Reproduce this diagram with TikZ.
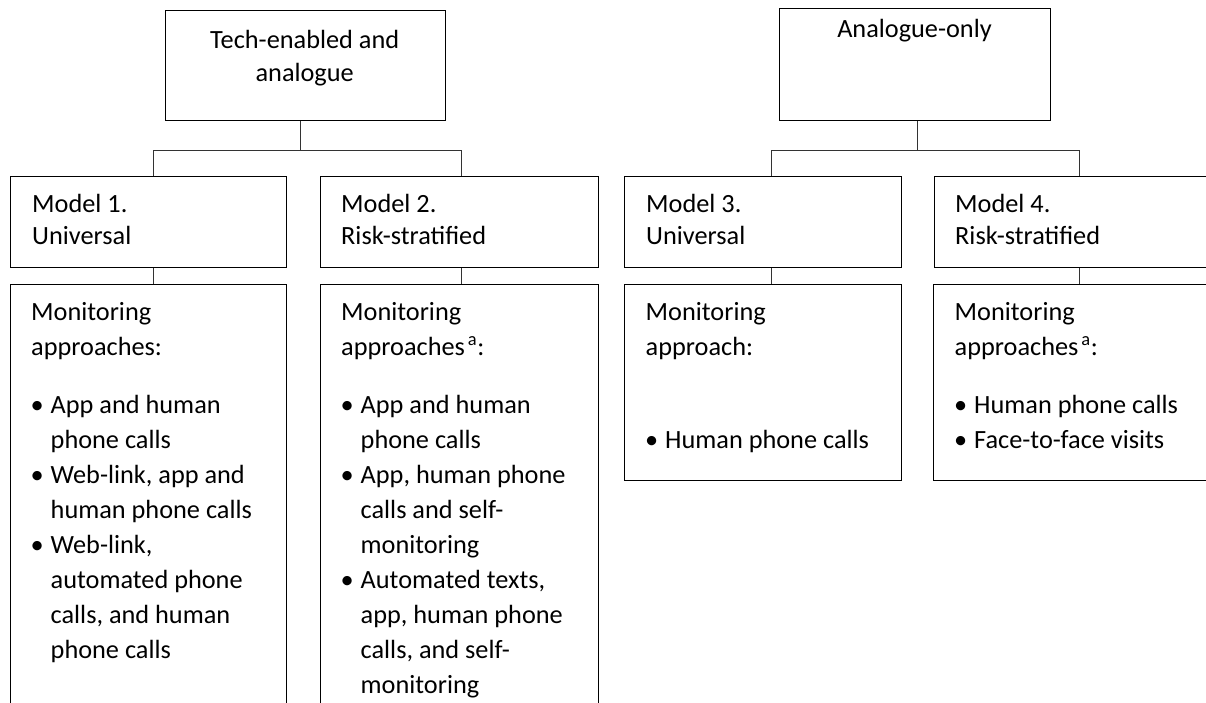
\documentclass[tikz,border=0pt]{standalone}
\usepackage{fontspec}
\setmainfont{Carlito}
\newcommand\bitem{\makebox[19.5pt][l]{\hspace*{-0.5pt}\textbullet}}
\newcommand\bcont{\hspace*{19.5pt}}
\begin{document}
\begin{tikzpicture}[x=1pt,y=-1pt,
  box/.style={draw=black, line width=1.3pt, inner sep=0pt, anchor=north west},
  conn/.style={draw=black!80, line width=1pt},
  txt/.style={inner sep=0pt, anchor=base west, font=\fontsize{26.3pt}{32pt}\selectfont},
  ctxt/.style={inner sep=0pt, anchor=base, font=\fontsize{26.3pt}{32pt}\selectfont}]
\useasboundingbox (0,0) rectangle (1206,702);
\clip (0,0) rectangle (1206,702);
\fill[white] (0,0) rectangle (1206,702);
% top boxes
\node[box, minimum width=280.5pt, minimum height=110pt] (t1) at (164.5,10) {};
\node[box, minimum width=271pt, minimum height=111.5pt] (t2) at (779,8) {};
% model boxes
\node[box, minimum width=276pt, minimum height=91.5pt] (m1) at (10,175.5) {};
\node[box, minimum width=278.5pt, minimum height=91.5pt] (m2) at (319.5,175.5) {};
\node[box, minimum width=277pt, minimum height=91.5pt] (m3) at (624,175.5) {};
\node[box, minimum width=300pt, minimum height=91.5pt] (m4) at (933.5,175.5) {};
% monitoring boxes
\node[box, minimum width=276pt, minimum height=450pt] (b1) at (10,283.5) {};
\node[box, minimum width=278.5pt, minimum height=450pt] (b2) at (319.5,283.5) {};
\node[box, minimum width=277pt, minimum height=196pt] (b3) at (624,283.5) {};
\node[box, minimum width=300pt, minimum height=196pt] (b4) at (933,283.5) {};
% connector coordinates
\coordinate (j1) at (300,150);
\coordinate (j2) at (917.7,150);
\coordinate (c1) at (153.5,150);
\coordinate (c2) at (461.5,150);
\coordinate (c3) at (771,150);
\coordinate (c4) at (1079,150);
\draw[conn] (t1.south -| j1) -- (j1);
\draw[conn] (c1) -- (c2);
\draw[conn] (c1) -- (c1 |- m1.north);
\draw[conn] (c2) -- (c2 |- m2.north);
\draw[conn] (t2.south -| j2) -- (j2);
\draw[conn] (c3) -- (c4);
\draw[conn] (c3) -- (c3 |- m3.north);
\draw[conn] (c4) -- (c4 |- m4.north);
\draw[conn] (m1.south -| c1) -- (b1.north -| c1);
\draw[conn] (m2.south -| c2) -- (b2.north -| c2);
\draw[conn] (m3.south -| c3) -- (b3.north -| c3);
\draw[conn] (m4.south -| c4) -- (b4.north -| c4);
% top texts
\node[ctxt] (t1a) at (304.7,48) {Tech-enabled and};
\node[ctxt] (t1b) at (304.7,81) {analogue};
\node[ctxt] (t2a) at (914.5,37) {Analogue-only};
% model texts
\node[txt] (m1a) at (32,212.5) {Model 1.};
\node[txt] (m1b) at (32,244.5) {Universal};
\node[txt] (m2a) at (341,212.5) {Model 2.};
\node[txt] (m2b) at (341,244.5) {Risk-stratified};
\node[txt] (m3a) at (646,212.5) {Model 3.};
\node[txt] (m3b) at (646,244.5) {Universal};
\node[txt] (m4a) at (955,212.5) {Model 4.};
\node[txt] (m4b) at (955,244.5) {Risk-stratified};
% monitoring headers
\node[txt] (b1h1) at (31,320) {Monitoring};
\node[txt] (b1h2) at (31,355) {approaches:};
\node[txt] (b2h1) at (341,320) {Monitoring};
\node[txt] (b2h2) at (341,355) {approaches\kern3pt\textsuperscript{a}:};
\node[txt] (b3h1) at (645.5,320) {Monitoring};
\node[txt] (b3h2) at (645.5,355) {approach:};
\node[txt] (b4h1) at (954.5,320) {Monitoring};
\node[txt] (b4h2) at (954.5,355) {approaches\kern3pt\textsuperscript{a}:};
% bullet lists
\foreach \t [count=\i from 0] in {{\bitem App and human},{\bcont phone calls},{\bitem Web-link, app and},{\bcont human phone calls},{\bitem Web-link,},{\bcont automated phone},{\bcont calls, and human},{\bcont phone calls}}
  \node[txt] (b1-\i) at (31,{413+35*\i}) {\t};
\foreach \t [count=\i from 0] in {{\bitem App and human},{\bcont phone calls},{\bitem App, human phone},{\bcont calls and self-},{\bcont monitoring},{\bitem Automated texts,},{\bcont app, human phone},{\bcont calls, and self-},{\bcont monitoring}}
  \node[txt] (b2-\i) at (341,{413+35*\i}) {\t};
\node[txt] (b3-0) at (645.5,448) {\bitem Human phone calls};
\node[txt] (b4-0) at (954.5,413) {\bitem Human phone calls};
\node[txt] (b4-1) at (954.5,448) {\bitem Face-to-face visits};
\end{tikzpicture}
\end{document}
